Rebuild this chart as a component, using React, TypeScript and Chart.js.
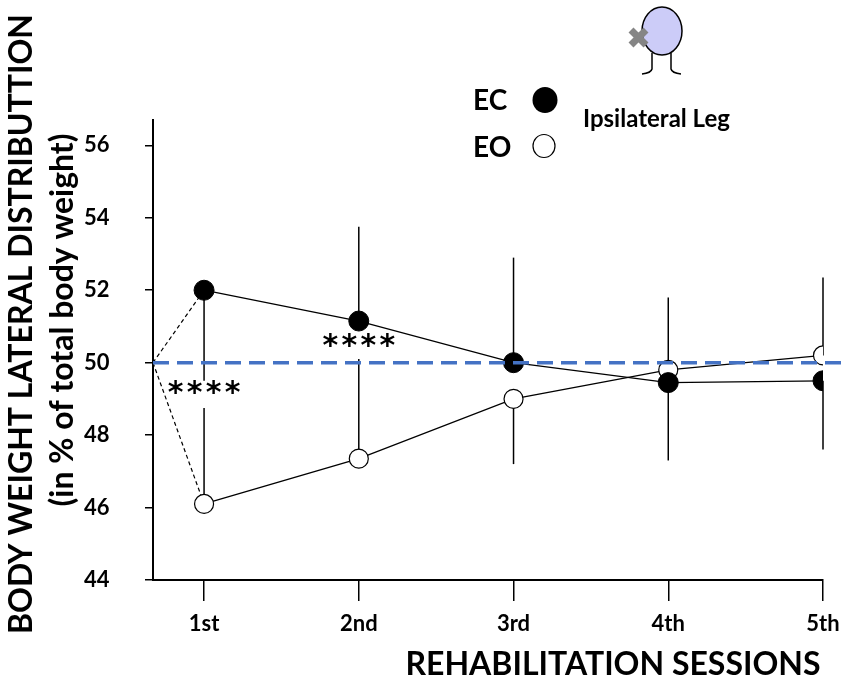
import { useEffect, useRef } from 'react';
import { Chart, registerables } from 'chart.js';

Chart.register(...registerables);

// ---- data ----
const sessions = ['1st', '2nd', '3rd', '4th', '5th'];
const ecMean = [52.0, 51.15, 50.0, 49.45, 49.5];
const ecSD = [2.5, 2.6, 2.9, 2.15, 1.9];
const ecSDDir = [-1, 1, 1, -1, -1];
const eoMean = [46.1, 47.35, 49.0, 49.8, 50.2];
const eoSD = [2.65, 2.75, 1.8, 2.0, 2.15];
const eoSDDir = [1, 1, -1, 1, 1];
const refValue = 50;
const yTicks = [44, 46, 48, 50, 52, 54, 56];
const yMin = 44;
const yMax = 56.7;
const xMin = 0.67;
const sigSessions = [0, 1];
const sigValues = [49.3, 50.6];
const sigText = '****';

const yTitle1 = 'BODY WEIGHT LATERAL DISTRIBUTTION';
const yTitle2 = '(in % of total body weight)';
const xTitle = 'REHABILITATION SESSIONS';
const legendEC = 'EC';
const legendEO = 'EO';
const legendNote = 'Ipsilateral Leg';

const FONT = 'Lato, "Open Sans", sans-serif';

const overlayPlugin = {
  id: 'overlay',
  beforeDatasetsDraw(chart: any) {
    const { ctx, scales } = chart;
    const x = scales.x;
    const y = scales.y;
    ctx.save();
    ctx.strokeStyle = '#000';
    ctx.lineWidth = 1.5;
    const bars = [
      { m: ecMean, s: ecSD, d: ecSDDir },
      { m: eoMean, s: eoSD, d: eoSDDir },
    ];
    bars.forEach((b) => {
      b.m.forEach((v, i) => {
        const px = x.getPixelForValue(i + 1);
        ctx.beginPath();
        ctx.moveTo(px, y.getPixelForValue(v));
        ctx.lineTo(px, y.getPixelForValue(v + b.d[i] * b.s[i]));
        ctx.stroke();
      });
    });
    ctx.restore();
  },
  afterDatasetsDraw(chart: any) {
    const { ctx, scales, chartArea } = chart;
    const x = scales.x;
    const y = scales.y;
    ctx.save();
    // reference line at 50 %
    const ry = y.getPixelForValue(refValue);
    ctx.strokeStyle = '#4472C4';
    ctx.lineWidth = 3.5;
    ctx.setLineDash([16, 8]);
    ctx.beginPath();
    ctx.moveTo(chartArea.left, ry);
    ctx.lineTo(chartArea.right + 20, ry);
    ctx.stroke();
    ctx.setLineDash([]);
    // significance marks
    ctx.fillStyle = '#000';
    ctx.font = `bold 30px "DejaVu Sans", sans-serif`;
    ctx.textAlign = 'center';
    ctx.textBaseline = 'middle';
    sigSessions.forEach((s, k) => {
      const cx = x.getPixelForValue(s + 1);
      const cy = y.getPixelForValue(sigValues[k]);
      const chars = sigText.split('');
      const pitch = 19;
      chars.forEach((c, j) => {
        ctx.fillText(c, cx + (j - (chars.length - 1) / 2) * pitch, cy + 6);
      });
    });
    ctx.restore();
  },
  afterDraw(chart: any) {
    const { ctx } = chart;
    ctx.save();
    ctx.fillStyle = '#000';
    // axis titles
    ctx.font = `bold 32px ${FONT}`;
    ctx.textAlign = 'center';
    ctx.textBaseline = 'alphabetic';
    ctx.save();
    ctx.translate(32, 324);
    ctx.rotate(-Math.PI / 2);
    ctx.fillText(yTitle1, 0, 0);
    ctx.restore();
    ctx.save();
    ctx.translate(73, 320);
    ctx.rotate(-Math.PI / 2);
    ctx.fillText(yTitle2, 0, 0);
    ctx.restore();
    ctx.fillText(xTitle, 613, 675);
    // legend
    ctx.textAlign = 'left';
    ctx.font = `bold 28px ${FONT}`;
    ctx.fillText(legendEC, 473, 110);
    ctx.fillText(legendEO, 473, 157);
    ctx.font = `bold 24px ${FONT}`;
    ctx.fillText(legendNote, 583, 127);
    ctx.beginPath();
    ctx.ellipse(545, 100, 12.5, 13, 0, 0, Math.PI * 2);
    ctx.fillStyle = '#000';
    ctx.fill();
    ctx.beginPath();
    ctx.ellipse(544, 146, 11, 11.5, 0, 0, Math.PI * 2);
    ctx.fillStyle = '#fff';
    ctx.fill();
    ctx.strokeStyle = '#000';
    ctx.lineWidth = 1.2;
    ctx.stroke();
    // icon: body with cross and legs
    ctx.strokeStyle = '#000';
    ctx.lineWidth = 1.5;
    ctx.beginPath();
    ctx.moveTo(652, 53);
    ctx.lineTo(652, 69);
    ctx.quadraticCurveTo(651, 73, 642, 74);
    ctx.moveTo(671, 53);
    ctx.lineTo(671, 69);
    ctx.quadraticCurveTo(672, 73, 681, 74);
    ctx.stroke();
    ctx.beginPath();
    ctx.ellipse(662, 31, 20, 24, 0, 0, Math.PI * 2);
    ctx.fillStyle = '#CCCCF8';
    ctx.fill();
    ctx.stroke();
    ctx.strokeStyle = '#858585';
    ctx.lineWidth = 7;
    ctx.beginPath();
    ctx.moveTo(631, 30);
    ctx.lineTo(646, 45);
    ctx.moveTo(646, 30);
    ctx.lineTo(631, 45);
    ctx.stroke();
    ctx.restore();
  },
};

export default function App() {
  const ref = useRef<HTMLCanvasElement | null>(null);
  useEffect(() => {
    if (!ref.current) return;
    const pts = (m: number[]) => m.map((v, i) => ({ x: i + 1, y: v }));
    const chart = new Chart(ref.current, {
      type: 'line',
      data: {
        datasets: [
          { label: legendEC, data: pts(ecMean), borderColor: '#000', borderWidth: 1.3, pointRadius: 10, pointBackgroundColor: '#000', pointBorderColor: '#000', pointBorderWidth: 1 },
          { label: legendEO, data: pts(eoMean), borderColor: '#000', borderWidth: 1.3, pointRadius: 9.5, pointBackgroundColor: '#fff', pointBorderColor: '#000', pointBorderWidth: 1.2 },
          { label: 'EC start', data: [{ x: xMin, y: refValue }, { x: 1, y: ecMean[0] }], borderColor: '#000', borderWidth: 1.2, borderDash: [4, 3], pointRadius: 0 },
          { label: 'EO start', data: [{ x: xMin, y: refValue }, { x: 1, y: eoMean[0] }], borderColor: '#000', borderWidth: 1.2, borderDash: [4, 3], pointRadius: 0 },
        ],
      },
      options: {
        responsive: false,
        animation: false,
        layout: { padding: { left: 84, right: 28, top: 120, bottom: 0 } },
        plugins: { legend: { display: false }, tooltip: { enabled: false } },
        scales: {
          x: {
            type: 'linear',
            min: xMin,
            max: sessions.length,
            afterBuildTicks: (s: any) => { s.ticks = sessions.map((_, i) => ({ value: i + 1 })); },
            afterFit: (s: any) => { s.height = 106; },
            ticks: { callback: (v: any) => sessions[Math.round(v) - 1] ?? '', color: '#000', font: { family: FONT, size: 22, weight: 'bold' }, padding: 10, maxRotation: 0 },
            grid: { drawOnChartArea: false, drawTicks: true, tickLength: 21, color: '#000', lineWidth: 1.5 },
            border: { color: '#000', width: 2 },
          },
          y: {
            type: 'linear',
            min: yMin,
            max: yMax,
            afterBuildTicks: (s: any) => { s.ticks = yTicks.map((v) => ({ value: v })); },
            afterFit: (s: any) => { s.width = 69; },
            ticks: { color: '#000', font: { family: FONT, size: 22, weight: 'bold' }, crossAlign: 'far' },
            grid: { drawOnChartArea: false, drawTicks: true, tickLength: 8, color: '#000', lineWidth: 1.5 },
            border: { color: '#000', width: 2 },
          },
        },
      },
      plugins: [overlayPlugin],
    });
    return () => chart.destroy();
  }, []);
  return (
    <div style={{ position: 'fixed', left: 0, top: 0, width: 851, height: 686, background: '#fff' }}>
      <canvas ref={ref} width={851} height={686} />
    </div>
  );
}
